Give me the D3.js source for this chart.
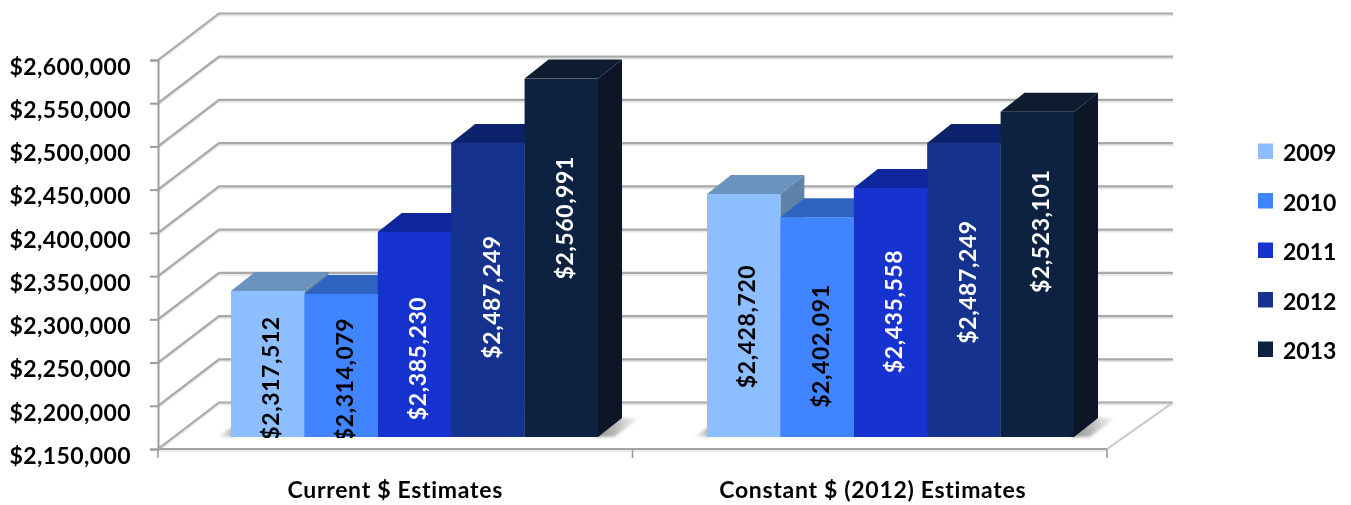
<!DOCTYPE html>
<html><head><meta charset="utf-8">
<script src="https://cdn.jsdelivr.net/npm/d3@7"></script>
<style>html,body{margin:0;padding:0;background:#fff}svg{display:block}text{font-family:Lato,"Open Sans",sans-serif;font-weight:700}</style>
</head><body><div id="chart"></div>
<script>
const categories = ["Current $ Estimates", "Constant $ (2012) Estimates"];
const years = ["2009", "2010", "2011", "2012", "2013"];
const currentValues = [2317512, 2314079, 2385230, 2487249, 2560991];
const constantValues = [2428720, 2402091, 2435558, 2487249, 2523101];
const seriesByCategory = [currentValues, constantValues];
const tickValues = [2150000, 2200000, 2250000, 2300000, 2350000, 2400000, 2450000, 2500000, 2550000, 2600000];
const frontColors = ["#8DBEFF", "#3F84FF", "#1432CF", "#12308F", "#10233F"];
const topColors = ["#6B92BF", "#2E63BF", "#10279B", "#0D246C", "#0B1A2F"];
const sideColors = ["#5F82A8", "#28569F", "#0E2286", "#0B1F5E", "#0A1726"];
const labelColors = ["#000", "#000", "#fff", "#fff", "#fff"];
const labelShifts = [[14, 14, 24, 7, -40], [11, 19, -1, -8, -43]];
const xLabelShifts = [0, 3];

const W = 1351, H = 505;
const svg = d3.select("#chart").append("svg").attr("width", W).attr("height", H);
const defs = svg.append("defs");
const soft = defs.append("filter").attr("id", "soft").attr("x", "-5%").attr("y", "-5%").attr("width", "110%").attr("height", "110%");
soft.append("feGaussianBlur").attr("stdDeviation", 0.5);
const shadowBlur = defs.append("filter").attr("id", "shadowBlur").attr("x", "-30%").attr("y", "-30%").attr("width", "160%").attr("height", "160%");
shadowBlur.append("feGaussianBlur").attr("stdDeviation", 1.6);
const sg = defs.append("linearGradient").attr("id", "shR");
sg.append("stop").attr("offset", 0).attr("stop-color", "#8f8f8f");
sg.append("stop").attr("offset", 0.45).attr("stop-color", "#b8b8b8");
sg.append("stop").attr("offset", 1).attr("stop-color", "#fff");
const sl = defs.append("linearGradient").attr("id", "shL");
sl.append("stop").attr("offset", 0).attr("stop-color", "#fff");
sl.append("stop").attr("offset", 1).attr("stop-color", "#b0b0b0");
defs.append("clipPath").attr("id", "barClip").append("rect").attr("x", 0).attr("y", 0).attr("width", W).attr("height", 438);

const root = svg.append("g").attr("filter", "url(#soft)");
const depthX = 61, depthY = -46.5;
const barDepthX = 24, barDepthY = -19;

const y = d3.scaleLinear().domain([2150000, 2600000]).range([449, 60]);
const yBar = d3.scaleLinear().domain([2150000, 2600000]).range([437, 44.6]);
const xAxisScale = d3.scaleBand().domain(categories).range([158, 1107]);
const xGroup = d3.scaleBand().domain(categories).range([160, 1112]);
const xBar = d3.scaleBand().domain(years).range([71, 438]);

const line = d3.line();
// walls + floor gridlines
const grid = root.append("g");
tickValues.forEach(t => {
  const p = [[158, y(t)], [158 + depthX, y(t) + depthY], [1173, y(t) + depthY]];
  grid.append("path").attr("d", line(p.map(d => [d[0], d[1] + 2]))).attr("fill", "none").attr("stroke", "#e4e4e4").attr("stroke-width", 1.6);
  grid.append("path").attr("d", line(p)).attr("fill", "none").attr("stroke", "#a8a8a8").attr("stroke-width", 2.2);
});
// floor right and front edges
grid.append("path").attr("d", line([[1107, y(2150000)], [1173, y(2150000) + depthY]])).attr("fill", "none").attr("stroke", "#c4c4c4").attr("stroke-width", 1.8);
grid.append("path").attr("d", line([[158, y(2150000) + 2], [1107, y(2150000) + 2]])).attr("fill", "none").attr("stroke", "#e4e4e4").attr("stroke-width", 1.6);

// y axis
const yAxis = d3.axisLeft(y).tickValues(tickValues).tickSize(8).tickPadding(19).tickFormat(d => "$" + d3.format(",")(d));
const gy = root.append("g").attr("transform", "translate(158,0)").call(yAxis);
gy.selectAll("path,line").attr("stroke", "#9c9c9c").attr("stroke-width", 2);
gy.selectAll("text").attr("font-size", 23).attr("fill", "#000").attr("dy", "0.62em").attr("letter-spacing", "0.4px");

// x axis
const gx = root.append("g").attr("transform", "translate(0,449)");
gx.append("line").attr("x1", 158).attr("x2", 1107).attr("stroke", "#a4a4a4").attr("stroke-width", 2.2);
[158, ...categories.map(c => xAxisScale(c) + xAxisScale.bandwidth())].forEach(x => {
  gx.append("line").attr("x1", x).attr("x2", x).attr("y1", 0).attr("y2", 9).attr("stroke", "#9c9c9c").attr("stroke-width", 1.6);
});
categories.forEach((c, i) => {
  gx.append("text").attr("x", xAxisScale(c) + xAxisScale.bandwidth() / 2 + xLabelShifts[i]).attr("y", 49)
    .attr("text-anchor", "middle").attr("font-size", 23).attr("letter-spacing", "0.7px").attr("fill", "#000").text(c);
});

// bars
categories.forEach((c, ci) => {
  const g = root.append("g");
  const left = xGroup(c);
  const base = yBar.range()[0];
  const x0 = left + xBar(years[0]);
  const xEnd = left + xBar(years[4]) + xBar.bandwidth();
  // floor shadows
  g.append("path").attr("d", line([[xEnd - 4, base], [xEnd + barDepthX - 4, base + barDepthY], [xEnd + 42, base + barDepthY], [xEnd + 16, base]]) + "Z").attr("fill", "url(#shR)").attr("filter", "url(#shadowBlur)");
  g.append("path").attr("d", line([[x0 - 14, base], [x0 + 3, base - 11], [x0 + 3, base]]) + "Z").attr("fill", "url(#shL)").attr("filter", "url(#shadowBlur)");
  seriesByCategory[ci].forEach((v, i) => {
    const x = left + xBar(years[i]), w = xBar.bandwidth(), t = yBar(v);
    g.append("path").attr("d", line([[x + w, t], [x + w + barDepthX, t + barDepthY], [x + w + barDepthX, base + barDepthY], [x + w, base]]) + "Z").attr("fill", sideColors[i]);
    g.append("path").attr("d", line([[x, t], [x + barDepthX, t + barDepthY], [x + w + barDepthX, t + barDepthY], [x + w, t]]) + "Z").attr("fill", topColors[i]);
    g.append("rect").attr("x", x).attr("y", t).attr("width", w).attr("height", base - t).attr("fill", frontColors[i]);
  });
  const lg = g.append("g").attr("clip-path", "url(#barClip)");
  seriesByCategory[ci].forEach((v, i) => {
    const x = left + xBar(years[i]), w = xBar.bandwidth(), t = yBar(v);
    const cy = (t + base) / 2 + labelShifts[ci][i];
    const cx = x + w / 2 + 3;
    lg.append("text").attr("transform", `translate(${cx},${cy}) rotate(-90)`).attr("text-anchor", "middle")
      .attr("dy", "0.38em").attr("font-size", 23).attr("letter-spacing", "0.6px").attr("fill", labelColors[i]).text("$" + d3.format(",")(v));
  });
});

// legend
const legendY = d3.scalePoint().domain(years).range([151, 349]);
const legend = root.append("g");
years.forEach((yr, i) => {
  const cy = legendY(yr);
  legend.append("rect").attr("x", 1258).attr("y", cy - 7.5).attr("width", 15).attr("height", 15.5).attr("fill", frontColors[i]);
  legend.append("text").attr("x", 1283).attr("y", cy + 10).attr("font-size", 23).attr("fill", "#000").text(yr);
});
</script></body></html>
